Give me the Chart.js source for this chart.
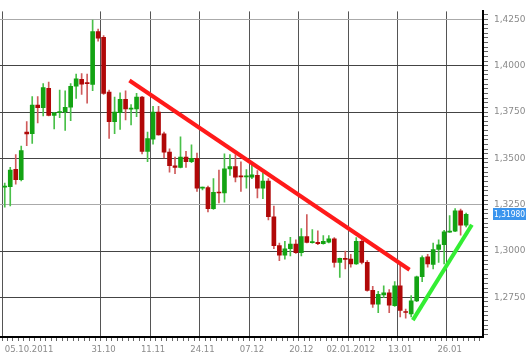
<!DOCTYPE html>
<html>
<head>
<meta charset="utf-8">
<script src="https://cdn.jsdelivr.net/npm/chart.js@4.4.0/dist/chart.umd.min.js"></script>
<style>
html, body { margin: 0; padding: 0; background: #fff; }
</style>
</head>
<body>
<canvas id="myChart" width="530" height="362"></canvas>
<script>
// daily candles, 05.10.2011 .. 31.01.2012 (index = trading day)
const open = [1.3345,1.3347,1.3441,1.3385,1.3642,1.3633,1.3788,1.3774,1.3878,1.3732,
  1.3747,1.3750,1.3776,1.3889,1.3926,1.3908,1.3899,1.4184,1.4153,1.3857,
  1.3698,1.3746,1.3819,1.3766,1.3767,1.3830,1.3538,1.3604,1.3750,1.3633,
  1.3534,1.3460,1.3451,1.3507,1.3482,1.3500,1.3339,1.3342,1.3229,1.3318,
  1.3313,1.3443,1.3455,1.3405,1.3400,1.3399,1.3408,1.3339,1.3377,1.3185,
  1.3029,1.2977,1.3012,1.3038,1.2991,1.3078,1.3045,1.3047,1.3040,1.3048,
  1.3066,1.2939,1.2958,1.2956,1.2930,1.3052,1.2939,1.2788,1.2713,1.2763,
  1.2774,1.2705,1.2812,1.2672,1.2661,1.2731,1.2861,1.2969,1.2927,1.3008,
  1.3034,1.3102,1.3107,1.3217,1.3139];
const high = [1.3366,1.3451,1.3521,1.3566,1.3698,1.3833,1.3833,1.3903,1.3911,1.3748,
  1.3868,1.3865,1.3903,1.3955,1.3957,1.3955,1.4246,1.4198,1.4163,1.3868,
  1.3830,1.3854,1.3865,1.3790,1.3851,1.3835,1.3642,1.3781,1.3781,1.3642,
  1.3552,1.3507,1.3616,1.3538,1.3573,1.3529,1.3345,1.3351,1.3391,1.3437,
  1.3524,1.3521,1.3521,1.3481,1.3439,1.3477,1.3434,1.3422,1.3391,1.3243,
  1.3043,1.3052,1.3074,1.3060,1.3121,1.3196,1.3116,1.3109,1.3083,1.3083,
  1.3073,1.2962,1.3000,1.2982,1.3073,1.3073,1.2948,1.2809,1.2783,1.2812,
  1.2792,1.2835,1.2923,1.2687,1.2760,1.2865,1.2974,1.2982,1.3043,1.3060,
  1.3112,1.3191,1.3229,1.3226,1.3205];
const low = [1.3236,1.3243,1.3361,1.3378,1.3569,1.3581,1.3691,1.3729,1.3729,1.3659,
  1.3720,1.3651,1.3703,1.3824,1.3845,1.3798,1.3865,1.4132,1.3845,1.3607,
  1.3633,1.3656,1.3708,1.3680,1.3725,1.3524,1.3482,1.3576,1.3625,1.3503,
  1.3425,1.3417,1.3448,1.3451,1.3477,1.3321,1.3330,1.3211,1.3225,1.3260,
  1.3264,1.3408,1.3373,1.3321,1.3339,1.3391,1.3286,1.3283,1.3168,1.3012,
  1.2948,1.2956,1.2974,1.2987,1.2974,1.3043,1.3042,1.3034,1.3037,1.3043,
  1.2913,1.2857,1.2904,1.2913,1.2927,1.2930,1.2783,1.2696,1.2667,1.2748,
  1.2667,1.2701,1.2644,1.2637,1.2644,1.2726,1.2835,1.2913,1.2904,1.2939,
  1.2930,1.3101,1.3104,1.3086,1.3130];
const close = [1.3351,1.3437,1.3385,1.3542,1.3632,1.3788,1.3774,1.3882,1.3732,1.3746,
  1.3750,1.3776,1.3889,1.3929,1.3900,1.3903,1.4184,1.4149,1.3851,1.3698,
  1.3750,1.3819,1.3767,1.3770,1.3830,1.3538,1.3607,1.3750,1.3627,1.3533,
  1.3460,1.3451,1.3507,1.3482,1.3500,1.3339,1.3342,1.3229,1.3316,1.3313,
  1.3443,1.3455,1.3399,1.3400,1.3404,1.3411,1.3339,1.3377,1.3185,1.3029,
  1.2977,1.3012,1.3038,1.2991,1.3078,1.3047,1.3048,1.3040,1.3052,1.3066,
  1.2939,1.2960,1.2955,1.2930,1.3052,1.2939,1.2788,1.2713,1.2766,1.2774,
  1.2708,1.2812,1.2679,1.2668,1.2731,1.2861,1.2965,1.2930,1.3008,1.3034,
  1.3104,1.3105,1.3217,1.3139,1.3198];

const xTickIndex = [0, 18, 27, 36, 45, 54, 63, 72, 81];
const xTickLabels = ['05.10.2011', '31.10', '11.11', '24.11', '07.12', '20.12', '02.01.2012', '13.01', '26.01'];
const yTickValues = [1.2750, 1.3000, 1.3250, 1.3500, 1.3750, 1.4000, 1.4250];
const yTickLabels = ['1,2750', '1,3000', '1,3250', '1,3500', '1,3750', '1,4000', '1,4250'];

// trend lines drawn on the picture (x = trading day index)
const redTrendX = [22.7, 73.7];
const redTrendY = [1.3920, 1.2899];
const greenTrendX = [74.3, 85.05];
const greenTrendY = [1.2627, 1.3142];

const lastPrice = close[close.length - 1];
const lastPriceLabel = '1,31980';

const up = close.map((c, i) => c >= open[i]);
const wickData = high.map((h, i) => ({x: i, y: [low[i], h]}));
const bodyData = open.map((o, i) => ({x: i, y: [Math.min(o, close[i]), Math.max(o, close[i])]}));

const priceTag = {
  id: 'priceTag',
  afterDraw(chart) {
    const c = chart.ctx;
    const y = Math.round(chart.scales.y.getPixelForValue(lastPrice));
    c.save();
    c.fillStyle = '#3b95ee';
    c.fillRect(493, y - 6, 33, 12);
    c.fillStyle = '#ffffff';
    c.font = '8px "DejaVu Sans"';
    c.textBaseline = 'middle';
    c.fillText(lastPriceLabel, 494, y + 0.5, 31);
    c.restore();
  }
};

const ctx = document.getElementById('myChart');

let myChart = new Chart(ctx, {
  type: 'bar',
  data: {
    datasets: [
      {
        type: 'line',
        data: redTrendX.map((x, i) => ({x: x, y: redTrendY[i]})),
        borderColor: '#ff1a1a',
        borderWidth: 4,
        pointRadius: 0,
        order: 0
      },
      {
        type: 'line',
        data: greenTrendX.map((x, i) => ({x: x, y: greenTrendY[i]})),
        borderColor: '#33ee33',
        borderWidth: 4,
        pointRadius: 0,
        order: 0
      },
      {
        data: bodyData,
        backgroundColor: up.map(u => u ? '#13a313' : '#b00808'),
        barThickness: 4,
        minBarLength: 1,
        grouped: false,
        order: 1
      },
      {
        data: wickData,
        backgroundColor: up.map(u => u ? '#49c049' : '#cf5b5b'),
        barThickness: 1,
        grouped: false,
        order: 2
      }
    ]
  },
  options: {
    responsive: false,
    devicePixelRatio: 1,
    animation: false,
    layout: { padding: 0 },
    plugins: {
      legend: { display: false },
      tooltip: { enabled: false }
    },
    scales: {
      x: {
        type: 'linear',
        min: -0.36,
        max: 86.57,
        afterBuildTicks: (scale) => {
          const t = [];
          for (let i = 0; i <= 86; i++) t.push({value: i});
          scale.ticks = t;
        },
        afterFit: (scale) => { scale.height = 25; },
        border: { color: '#000', width: 2 },
        grid: {
          color: (c) => xTickIndex.includes(c.tick && c.tick.value) ? '#555' : 'rgba(0,0,0,0)',
          tickColor: '#666',
          tickLength: 4
        },
        ticks: {
          autoSkip: false,
          maxRotation: 0,
          align: 'inner',
          padding: 4,
          color: '#8a8a8a',
          font: { family: 'DejaVu Sans', size: 8.5 },
          callback: (v) => {
            const k = xTickIndex.indexOf(v);
            return k >= 0 ? xTickLabels[k] : '';
          }
        }
      },
      y: {
        type: 'linear',
        position: 'right',
        min: 1.2536,
        max: 1.4293,
        afterBuildTicks: (scale) => {
          const t = [];
          for (let m = 12550; m <= 14275; m += 25) t.push({value: m / 10000});
          scale.ticks = t;
        },
        afterFit: (scale) => { scale.width = 47; },
        border: { color: '#000', width: 2 },
        grid: {
          color: (c) => {
            const v = c.tick ? Math.round(c.tick.value * 10000) : 0;
            if (v === 14250 || v === 13250) return '#aaaaaa';
            return v % 250 === 0 ? '#444' : 'rgba(0,0,0,0)';
          },
          tickColor: '#666',
          tickLength: 5
        },
        ticks: {
          autoSkip: false,
          padding: 6,
          color: '#8a8a8a',
          font: { family: 'DejaVu Sans', size: 9 },
          callback: (v) => {
            const k = yTickValues.findIndex(t => Math.abs(t - v) < 1e-6);
            return k >= 0 ? yTickLabels[k] : '';
          }
        }
      }
    }
  },
  plugins: [priceTag]
});
</script>
</body>
</html>
